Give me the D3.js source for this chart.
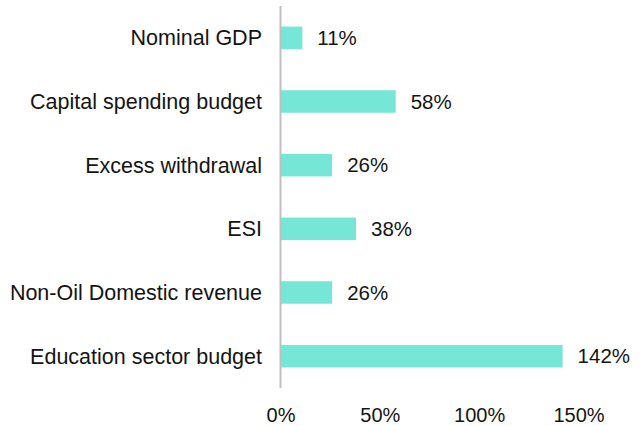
<!DOCTYPE html>
<html>
<head>
<meta charset="utf-8">
<script src="https://cdn.jsdelivr.net/npm/d3@7"></script>
<style>
  html, body { margin: 0; padding: 0; background: #ffffff; }
  svg { display: block; }
  text { font-family: "Liberation Sans", Arial, sans-serif; fill: #141414; }
</style>
</head>
<body>
<script>
// Budget & revenue growth indicators
const categories = [
  "Nominal GDP",
  "Capital spending budget",
  "Excess withdrawal",
  "ESI",
  "Non-Oil Domestic revenue",
  "Education sector budget"
];
const values = [11, 58, 26, 38, 26, 142];
const tickValues = [0, 50, 100, 150];

const width = 639, height = 426;
const svg = d3.select("body").append("svg")
  .attr("width", width).attr("height", height);

const x = d3.scaleLinear().domain([0, 150]).range([280.5, 578.5]);
const y = d3.scaleBand().domain(categories).range([6, 388])
  .paddingInner(0.647).paddingOuter(0.3235);

// bars
svg.append("g").selectAll("rect")
  .data(categories)
  .join("rect")
  .attr("x", x(0))
  .attr("y", d => y(d))
  .attr("width", (d, i) => x(values[i]) - x(0))
  .attr("height", y.bandwidth())
  .attr("fill", "#76e6d6");

// vertical baseline
svg.append("line")
  .attr("x1", x(0)).attr("x2", x(0))
  .attr("y1", 6).attr("y2", 388)
  .attr("stroke", "#bfbfbf").attr("stroke-width", 2);

// category labels
svg.append("g").selectAll("text")
  .data(categories)
  .join("text")
  .attr("x", 262)
  .attr("y", d => y(d) + y.bandwidth() / 2)
  .attr("dy", "0.35em")
  .attr("text-anchor", "end")
  .style("font-size", "21.5px")
  .text(d => d);

// value labels
svg.append("g").selectAll("text")
  .data(categories)
  .join("text")
  .attr("x", (d, i) => x(values[i]) + 15)
  .attr("y", d => y(d) + y.bandwidth() / 2)
  .attr("dy", "0.35em")
  .style("font-size", "20.5px")
  .text((d, i) => values[i] + "%");

// x axis (labels only)
const xAxis = d3.axisBottom(x)
  .tickValues(tickValues)
  .tickFormat(d => d + "%")
  .tickSize(0)
  .tickPadding(0);
const gx = svg.append("g").attr("transform", "translate(0,408)").call(xAxis);
gx.select(".domain").remove();
gx.selectAll("text")
  .style("font-size", "20px")
  .style("font-family", "'Liberation Sans', Arial, sans-serif")
  .attr("fill", "#141414");
</script>
</body>
</html>
